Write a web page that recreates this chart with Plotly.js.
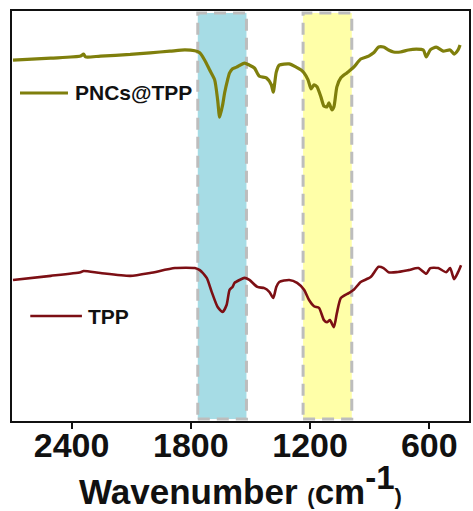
<!DOCTYPE html>
<html>
<head>
<meta charset="utf-8">
<script src="https://cdn.plot.ly/plotly-3.0.1.min.js"></script>
<style>
  html, body { margin: 0; padding: 0; background: #ffffff; }
  #chart { width: 473px; height: 511px; }
</style>
</head>
<body>
<div id="chart"></div>
<script>
// FTIR spectra: transmittance (a.u., offset) versus wavenumber (cm-1)
const pncsWavenumber = [2695, 2505, 2355, 2340, 2330, 2255, 2105, 2005, 1905, 1830, 1780, 1755, 1730, 1705, 1680, 1665, 1655, 1640, 1630, 1615, 1605, 1590, 1570, 1530, 1505, 1480, 1455, 1420, 1395, 1385, 1370, 1355, 1305, 1270, 1245, 1230, 1210, 1195, 1180, 1165, 1145, 1130, 1115, 1105, 1090, 1080, 1065, 1045, 1015, 980, 945, 905, 880, 855, 830, 805, 780, 745, 705, 665, 630, 615, 595, 565, 530, 495, 475, 455, 445];
const pncsTransmittance = [88.0, 88.5, 89.0, 89.5, 88.8, 89.0, 89.4, 89.8, 90.2, 90.5, 90.3, 89.8, 88.0, 85.6, 83.2, 78.3, 74.1, 77.1, 80.0, 83.2, 84.9, 85.9, 86.3, 87.3, 86.8, 86.1, 84.1, 83.7, 82.0, 80.2, 85.1, 86.8, 87.1, 86.3, 85.6, 84.9, 83.2, 81.0, 82.0, 81.5, 79.0, 76.8, 76.6, 77.6, 75.9, 76.6, 81.5, 83.7, 84.9, 86.3, 88.3, 89.0, 89.8, 91.2, 91.2, 90.5, 90.0, 90.0, 90.5, 90.7, 90.5, 88.8, 90.5, 91.2, 90.2, 90.5, 89.5, 90.5, 91.7];

const tppWavenumber = [2695, 2505, 2355, 2340, 2255, 2105, 2005, 1880, 1780, 1755, 1720, 1695, 1665, 1640, 1620, 1605, 1590, 1580, 1555, 1530, 1505, 1465, 1430, 1405, 1385, 1370, 1355, 1305, 1265, 1230, 1205, 1180, 1155, 1130, 1115, 1100, 1080, 1065, 1045, 1005, 980, 945, 895, 855, 830, 805, 765, 705, 655, 615, 595, 555, 515, 495, 475, 455, 440];
const tppTransmittance = [34.4, 35.4, 36.3, 36.6, 36.1, 35.4, 36.1, 37.3, 37.3, 36.8, 34.9, 31.5, 27.8, 26.6, 28.3, 32.0, 32.7, 33.7, 34.4, 34.9, 34.4, 32.7, 32.4, 31.5, 30.0, 32.7, 33.9, 34.4, 33.7, 32.0, 29.5, 28.0, 27.6, 24.6, 24.1, 24.6, 22.9, 26.3, 30.0, 31.2, 32.0, 33.9, 35.1, 37.6, 37.3, 36.3, 36.3, 36.8, 37.3, 35.9, 37.3, 37.3, 36.3, 37.3, 34.6, 36.3, 38.0];

// highlighted absorption bands [high, low] in cm-1
const bandBlue = [1765, 1520];
const bandYellow = [1235, 990];

const xTickValues = [2400, 1800, 1200, 600];
const seriesNames = ['PNCs@TPP', 'TPP'];

const FONT = 'Liberation Sans, Arial, Helvetica, sans-serif';
const OLIVE = '#7f7f0c';
const DARKRED = '#7c0f14';

const traces = [
  {
    x: pncsWavenumber, y: pncsTransmittance, name: seriesNames[0],
    type: 'scatter', mode: 'lines',
    line: { color: OLIVE, width: 3.2, shape: 'spline', smoothing: 0.6 },
    showlegend: false, hoverinfo: 'skip'
  },
  {
    x: tppWavenumber, y: tppTransmittance, name: seriesNames[1],
    type: 'scatter', mode: 'lines',
    line: { color: DARKRED, width: 2.6, shape: 'spline', smoothing: 0.6 },
    showlegend: false, hoverinfo: 'skip'
  }
];

function band(range, fill) {
  return {
    type: 'rect', xref: 'x', yref: 'paper', layer: 'below',
    x0: range[0], x1: range[1], y0: 0.005, y1: 0.995,
    fillcolor: fill,
    line: { color: '#bdbdbd', width: 3, dash: '12px,7px' }
  };
}

// legend samples drawn as short strokes with labels beside them
function legendStroke(x0, x1, y, color, width) {
  return {
    type: 'line', xref: 'paper', yref: 'paper',
    x0: x0, x1: x1, y0: y, y1: y,
    line: { color: color, width: width }
  };
}

const layout = {
  width: 473, height: 511,
  margin: { l: 12, r: 4, t: 11, b: 90 },
  paper_bgcolor: '#ffffff', plot_bgcolor: '#ffffff',
  showlegend: false,
  font: { family: FONT, color: '#111111' },
  xaxis: {
    range: [2700, 400],
    tickvals: xTickValues,
    ticktext: xTickValues.map(String),
    ticks: 'outside', ticklen: 6, tickwidth: 2, tickcolor: '#111111',
    ticklabelstandoff: -13,
    tickfont: { family: FONT, size: 34, color: '#111111', weight: 'bold' },
    showline: true, linecolor: '#111111', linewidth: 2, mirror: true,
    showgrid: false, zeroline: false,
    title: {
      text: 'Wavenumber <span style="font-size:22px">(</span>cm<sup><span style="font-size:33px">-1</span></sup><span style="font-size:22px">)</span>',
      font: { family: FONT, size: 35, color: '#111111', weight: 'bold' },
      standoff: 0
    }
  },
  yaxis: {
    range: [0, 100],
    showticklabels: false, ticks: '',
    showline: true, linecolor: '#111111', linewidth: 2, mirror: true,
    showgrid: false, zeroline: false
  },
  shapes: [
    band(bandBlue, '#a6dce5'),
    band(bandYellow, '#ffffa8'),
    legendStroke(0.0175, 0.1225, 0.80, OLIVE, 3.2),
    legendStroke(0.04, 0.153, 0.256, DARKRED, 2.6)
  ],
  annotations: [
    {
      xref: 'paper', yref: 'paper', x: 0.134, y: 0.80,
      xanchor: 'left', yanchor: 'middle', showarrow: false,
      text: seriesNames[0],
      font: { family: FONT, size: 21, color: '#111111', weight: 'bold' }
    },
    {
      xref: 'paper', yref: 'paper', x: 0.162, y: 0.256,
      xanchor: 'left', yanchor: 'middle', showarrow: false,
      text: seriesNames[1],
      font: { family: FONT, size: 21, color: '#111111', weight: 'bold' }
    }
  ]
};

Plotly.newPlot('chart', traces, layout, { displayModeBar: false, staticPlot: true });
</script>
</body>
</html>
